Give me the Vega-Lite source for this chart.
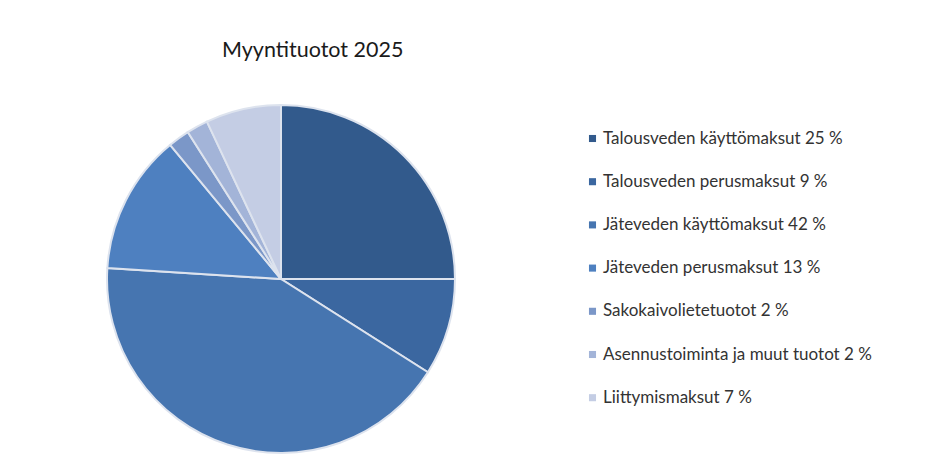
{
  "$schema": "https://vega.github.io/schema/vega-lite/v6.json",
  "autosize": {"type": "none"},
  "width": 562,
  "height": 468,
  "padding": {"left": 0, "top": 45, "right": 379, "bottom": 0},
  "background": "#ffffff",
  "title": {
    "text": "Myyntituotot 2025",
    "anchor": "start",
    "frame": "group",
    "dx": 222,
    "offset": -16,
    "fontSize": 21.5,
    "font": "Lato",
    "fontWeight": "normal",
    "color": "#1a1a1a"
  },
  "data": {
    "values": [
      {"label": "Talousveden käyttömaksut 25 %", "value": 25, "order": 1},
      {"label": "Talousveden perusmaksut  9 %", "value": 9, "order": 2},
      {"label": "Jäteveden käyttömaksut 42 %", "value": 42, "order": 3},
      {"label": "Jäteveden perusmaksut 13 %", "value": 13, "order": 4},
      {"label": "Sakokaivolietetuotot 2 %", "value": 2, "order": 5},
      {"label": "Asennustoiminta ja muut tuotot 2 %", "value": 2, "order": 6},
      {"label": "Liittymismaksut 7 %", "value": 7, "order": 7}
    ]
  },
  "mark": {"type": "arc", "outerRadius": 174, "stroke": "#dde3ee", "strokeWidth": 2},
  "encoding": {
    "theta": {"field": "value", "type": "quantitative", "stack": true},
    "order": {"field": "order", "type": "quantitative"},
    "color": {
      "field": "label",
      "type": "nominal",
      "sort": null,
      "scale": {
        "domain": [
          "Talousveden käyttömaksut 25 %",
          "Talousveden perusmaksut  9 %",
          "Jäteveden käyttömaksut 42 %",
          "Jäteveden perusmaksut 13 %",
          "Sakokaivolietetuotot 2 %",
          "Asennustoiminta ja muut tuotot 2 %",
          "Liittymismaksut 7 %"
        ],
        "range": ["#325A8C", "#3B67A0", "#4675B0", "#4E80C0", "#7B97C8", "#A3B4D8", "#C4CDE4"]
      },
      "legend": {
        "title": null,
        "orient": "none",
        "legendX": 584,
        "legendY": 85,
        "symbolType": "square",
        "symbolSize": 50,
        "symbolStrokeWidth": 0,
        "labelFont": "Lato",
        "labelFontSize": 17,
        "labelColor": "#333333",
        "labelLimit": 400,
        "labelOffset": 2,
        "rowPadding": 25.2
      }
    }
  },
  "config": {"view": {"stroke": null}}
}
